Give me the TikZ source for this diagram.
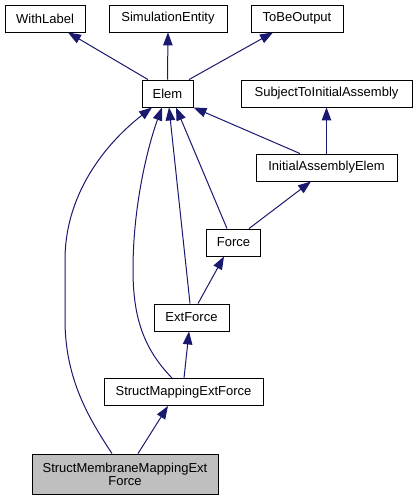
\documentclass[tikz,border=0pt]{standalone}
\usepackage{fontspec}
\setmainfont{Liberation Sans}
\usetikzlibrary{arrows.meta}
\definecolor{edgeblue}{HTML}{191970}
\definecolor{grayfill}{HTML}{BFBFBF}
\begin{document}
\begin{tikzpicture}[x=1pt,y=-1pt,
  cls/.style={draw=black, line width=0.9pt, fill=white, font=\fontsize{13}{13.3}\selectfont, inner sep=0pt, minimum height=27pt, align=center},
  edge/.style={draw=edgeblue, line width=1pt, -{Triangle[length=13pt,width=9.5pt]}}]
\useasboundingbox (0,0) rectangle (417,501);
\fill[white] (0,0) rectangle (417,501);
\node[cls, minimum width=80pt] (withlabel) at (45,18.5) {WithLabel};
\node[cls, minimum width=118pt] (simentity) at (168,18.5) {SimulationEntity};
\node[cls, minimum width=92pt] (tobeoutput) at (297,18.5) {ToBeOutput};
\node[cls, minimum width=51pt] (elem) at (167.5,93.5) {Elem};
\node[cls, minimum width=171pt] (stia) at (326.5,93.5) {SubjectToInitialAssembly};
\node[cls, minimum width=141pt] (iae) at (326.5,167.5) {InitialAssemblyElem};
\node[cls, minimum width=54pt] (force) at (233.5,242.5) {Force};
\node[cls, minimum width=75pt] (extforce) at (191.5,317.5) {ExtForce};
\node[cls, minimum width=159pt] (mapping) at (183.5,392) {StructMappingExtForce};
\node[cls, fill=grayfill, minimum width=186pt, minimum height=40pt] (membrane) at (125,474) {StructMembraneMappingExt\\Force};
\draw[edge] ([xshift=-19.5pt]elem.north) -- ([xshift=23pt]withlabel.south);
\draw[edge] (elem.north) -- (simentity.south);
\draw[edge] ([xshift=21.5pt]elem.north) -- ([xshift=-24pt]tobeoutput.south);
\draw[edge] (iae.north) -- (stia.south);
\draw[edge] ([xshift=-26.5pt]iae.north) -- (elem.south east);
\draw[edge] ([xshift=-6.5pt]force.north) -- ([xshift=8.5pt]elem.south);
\draw[edge] ([xshift=15.5pt]force.north) -- ([xshift=-15.5pt]iae.south);
\draw[edge] ([xshift=-1.5pt]extforce.north) -- ([xshift=1.5pt]elem.south);
\draw[edge] ([xshift=6.5pt]extforce.north) -- ([xshift=-9.5pt]force.south);
\draw[edge] ([xshift=0.5pt]mapping.north) -- ([xshift=-2.5pt]extforce.south);
\draw[edge] ([xshift=-11.5pt]mapping.north) .. controls (145,350) and (133,320) .. (133,270) .. controls (133,200) and (150,140) .. ([xshift=-5.5pt]elem.south);
\draw[edge] ([xshift=13pt]membrane.north) -- ([xshift=-15.5pt]mapping.south);
\draw[edge] ([xshift=-13pt]membrane.north) .. controls (90,420) and (65,380) .. (65,320) -- (65,260) .. controls (65,190) and (110,140) .. ([xshift=-15.5pt]elem.south);
\end{tikzpicture}
\end{document}
